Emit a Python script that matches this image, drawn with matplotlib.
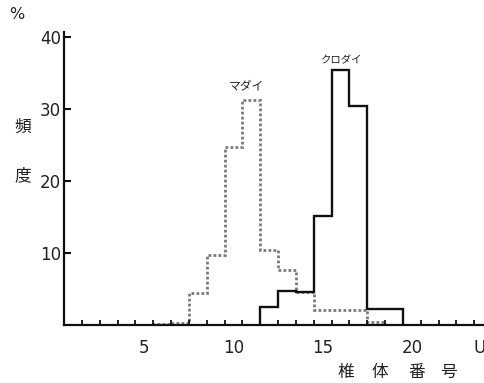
import matplotlib
matplotlib.use('Agg')
import matplotlib.pyplot as plt
import numpy as np

plt.rcParams['font.family'] = ['DejaVu Sans', 'Noto Sans CJK JP']

# vertebra number vs. frequency (%)
madai_vert = [6, 7, 8, 9, 10, 11, 12, 13, 14, 15, 16, 17, 18]
madai_pct = [0.2, 0.3, 4.4, 9.8, 24.7, 31.3, 10.5, 7.7, 4.6, 2.1, 2.1, 2.1, 0.4]

kuro_vert = [12, 13, 14, 15, 16, 17, 18, 19]
kuro_pct = [2.5, 4.8, 4.6, 15.2, 35.4, 30.5, 2.3, 2.3]

xtick_pos = [5, 10, 15, 20, 23.8]
xtick_labels = ['5', '10', '15', '20', 'U']
yticks = [10, 20, 30, 40]

xlabel_chars = ['椎', '体', '番', '号']
ylabel_chars = ['頻', '度']

jp = ['Noto Sans CJK JP', 'DejaVu Sans']


def edges(vert):
    return np.append(np.array(vert) - 0.5, vert[-1] + 0.5)


fig = plt.figure(figsize=(4.85, 3.83), dpi=100)
ax = fig.add_axes([0.132, 0.151, 0.868, 0.765])

ax.stairs(madai_pct, edges(madai_vert), baseline=0, color='#7a7a7a',
          linestyle=(0, (1, 0.8)), linewidth=2.0)
ax.stairs(kuro_pct, edges(kuro_vert), baseline=0, color='#111111',
          linewidth=1.7)

ax.set_xlim(0.5, 24.1)
ax.set_ylim(0, 40.7)

for s in ['top', 'right']:
    ax.spines[s].set_visible(False)
for s in ['left', 'bottom']:
    ax.spines[s].set_linewidth(1.6)
    ax.spines[s].set_color('#111111')

ax.set_xticks(xtick_pos)
ax.set_xticklabels(xtick_labels)
ax.set_xticks(np.arange(1.5, 24, 1), minor=True)
ax.tick_params(axis='x', which='major', length=0, pad=10, labelsize=12,
               labelcolor='#222222')
ax.tick_params(axis='x', which='minor', direction='in', length=3.5,
               width=1.3, color='#111111')

ax.set_yticks(yticks)
ax.tick_params(axis='y', which='major', direction='in', length=5, width=1.5,
               pad=2, labelsize=12, labelcolor='#222222', color='#111111')

ax.text(10.73, 33.3, 'マダイ', family=jp, fontsize=8.5, ha='center',
        va='center', color='#222222')
ax.text(16.06, 36.8, 'クロダイ', family=jp, fontsize=7.5, ha='center',
        va='center', style='italic', color='#222222')

fig.text(0.035, 0.961, '%', fontsize=11.5, ha='center', va='center',
         color='#222222')
for ch, yy in zip(ylabel_chars, [0.668, 0.54]):
    fig.text(0.047, yy, ch, family=jp, fontsize=12, ha='center',
             va='center', color='#222222')
for ch, xx in zip(xlabel_chars, [0.712, 0.784, 0.86, 0.924]):
    fig.text(xx, 0.028, ch, family=jp, fontsize=12, ha='center',
             va='center', color='#222222')

fig.savefig('out.png', dpi=100)
